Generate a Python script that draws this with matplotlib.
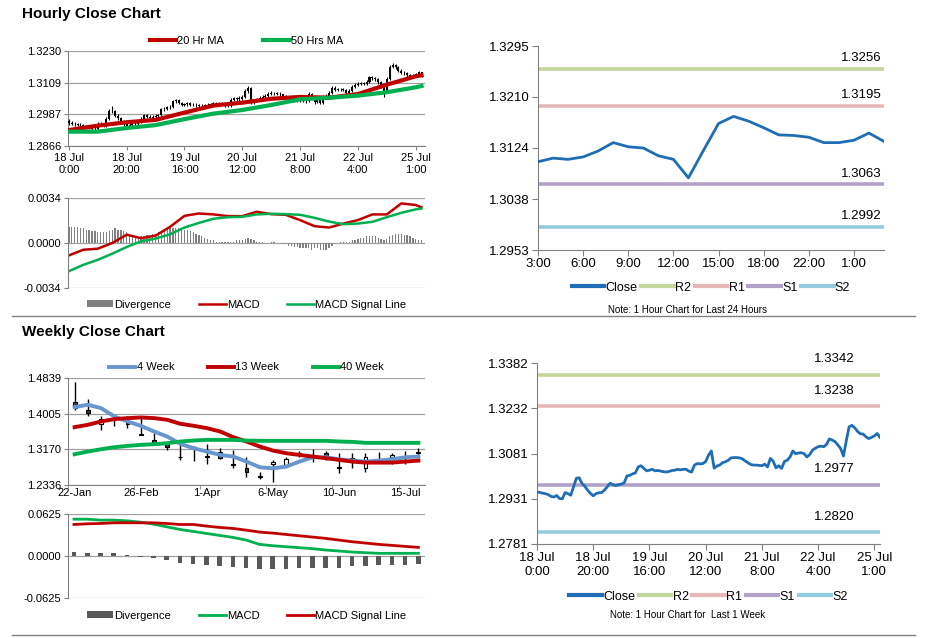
import matplotlib.pyplot as plt
from matplotlib.lines import Line2D
import numpy as np

plt.rcParams['font.family'] = ['Liberation Sans', 'DejaVu Sans']

# ---------------- data ----------------
# hourly closes, 18 Jul 0:00 onwards (123 hours)
hourly_close = [
    1.2954, 1.2952, 1.2950, 1.2948, 1.2945, 1.2939, 1.2937, 1.2942, 1.2932, 1.2931,
    1.2952, 1.2948, 1.2943, 1.2971, 1.2999, 1.3001, 1.2982, 1.2973, 1.2960, 1.2949,
    1.2941, 1.2948, 1.2951, 1.2952, 1.2960, 1.2971, 1.2983, 1.2978, 1.2975, 1.2978,
    1.2980, 1.2984, 1.3007, 1.3009, 1.3014, 1.3017, 1.3037, 1.3041, 1.3032, 1.3024,
    1.3026, 1.3029, 1.3024, 1.3025, 1.3023, 1.3021, 1.3020, 1.3022, 1.3025, 1.3026,
    1.3029, 1.3027, 1.3029, 1.3029, 1.3023, 1.3020, 1.3043, 1.3048, 1.3047, 1.3048,
    1.3055, 1.3076, 1.3090, 1.3033, 1.3040, 1.3043, 1.3051, 1.3054, 1.3059, 1.3067,
    1.3068, 1.3068, 1.3067, 1.3064, 1.3057, 1.3051, 1.3045, 1.3043, 1.3043, 1.3042,
    1.3041, 1.3046, 1.3037, 1.3065, 1.3056, 1.3034, 1.3041, 1.3032, 1.3055, 1.3059,
    1.3070, 1.3090, 1.3081, 1.3083, 1.3084, 1.3081, 1.3070, 1.3078, 1.3093, 1.3099,
    1.3104, 1.3106, 1.3104, 1.3112, 1.3130, 1.3126, 1.3121, 1.3110, 1.3098, 1.3073,
    1.3123, 1.3170, 1.3175, 1.3167, 1.3155, 1.3147, 1.3146, 1.3137, 1.3131, 1.3135,
    1.3140, 1.3148, 1.3135]
hourly_high = [
    1.2968, 1.2962, 1.2958, 1.2956, 1.2953, 1.2950, 1.2945, 1.2948, 1.2946, 1.2940,
    1.2958, 1.2957, 1.2953, 1.2978, 1.3008, 1.3020, 1.3005, 1.2988, 1.2977, 1.2964,
    1.2953, 1.2954, 1.2957, 1.2958, 1.2966, 1.2977, 1.2990, 1.2988, 1.2983, 1.2985,
    1.2987, 1.2990, 1.3013, 1.3016, 1.3020, 1.3024, 1.3043, 1.3048, 1.3045, 1.3036,
    1.3032, 1.3035, 1.3033, 1.3031, 1.3030, 1.3028, 1.3026, 1.3028, 1.3031, 1.3032,
    1.3035, 1.3034, 1.3035, 1.3036, 1.3034, 1.3028, 1.3050, 1.3055, 1.3054, 1.3056,
    1.3062, 1.3083, 1.3095, 1.3093, 1.3047, 1.3050, 1.3057, 1.3061, 1.3066, 1.3073,
    1.3075, 1.3074, 1.3074, 1.3071, 1.3067, 1.3061, 1.3055, 1.3050, 1.3049, 1.3049,
    1.3048, 1.3052, 1.3051, 1.3071, 1.3069, 1.3060, 1.3048, 1.3046, 1.3061, 1.3066,
    1.3077, 1.3096, 1.3094, 1.3089, 1.3090, 1.3089, 1.3085, 1.3084, 1.3099, 1.3106,
    1.3111, 1.3113, 1.3112, 1.3118, 1.3136, 1.3134, 1.3130, 1.3125, 1.3114, 1.3100,
    1.3130, 1.3178, 1.3184, 1.3181, 1.3172, 1.3160, 1.3153, 1.3150, 1.3142, 1.3141,
    1.3146, 1.3155, 1.3151]
hourly_low = [
    1.2948, 1.2946, 1.2944, 1.2941, 1.2939, 1.2934, 1.2931, 1.2933, 1.2927, 1.2926,
    1.2929, 1.2942, 1.2938, 1.2940, 1.2966, 1.2992, 1.2976, 1.2967, 1.2955, 1.2942,
    1.2934, 1.2936, 1.2942, 1.2945, 1.2948, 1.2955, 1.2966, 1.2972, 1.2969, 1.2970,
    1.2973, 1.2975, 1.2980, 1.3000, 1.3004, 1.3008, 1.3012, 1.3031, 1.3026, 1.3018,
    1.3019, 1.3021, 1.3018, 1.3019, 1.3017, 1.3015, 1.3013, 1.3015, 1.3017, 1.3019,
    1.3021, 1.3021, 1.3022, 1.3023, 1.3017, 1.3014, 1.3016, 1.3038, 1.3040, 1.3040,
    1.3043, 1.3050, 1.3070, 1.3027, 1.3028, 1.3035, 1.3038, 1.3046, 1.3049, 1.3054,
    1.3061, 1.3062, 1.3061, 1.3058, 1.3051, 1.3045, 1.3039, 1.3037, 1.3036, 1.3036,
    1.3035, 1.3036, 1.3031, 1.3034, 1.3050, 1.3028, 1.3029, 1.3026, 1.3028, 1.3050,
    1.3054, 1.3066, 1.3075, 1.3076, 1.3077, 1.3075, 1.3064, 1.3066, 1.3073, 1.3088,
    1.3094, 1.3098, 1.3098, 1.3100, 1.3108, 1.3120, 1.3115, 1.3104, 1.3090, 1.3053,
    1.3070, 1.3118, 1.3164, 1.3160, 1.3149, 1.3141, 1.3139, 1.3131, 1.3125, 1.3127,
    1.3132, 1.3136, 1.3130]
first_open = 1.2960
hourly_tick_pos = [0, 20, 40, 60, 80, 100, 120]
hourly_tick_labels = ['18 Jul\n0:00', '18 Jul\n20:00', '19 Jul\n16:00', '20 Jul\n12:00',
                      '21 Jul\n8:00', '22 Jul\n4:00', '25 Jul\n1:00']
hourly_yticks = [1.2866, 1.2987, 1.3109, 1.3230]

ma_hours = [0, 10, 20, 30, 40, 50, 60, 70, 80, 90, 100, 110, 120, 122]
ma20 = [1.2927, 1.2944, 1.2957, 1.2966, 1.2994, 1.3021, 1.3032, 1.3047, 1.3054,
        1.3051, 1.3065, 1.3101, 1.3133, 1.3137]
ma50 = [1.2921, 1.2921, 1.2935, 1.2946, 1.2969, 1.2990, 1.3004, 1.3023, 1.3045,
        1.3051, 1.3059, 1.3072, 1.3091, 1.3096]

macd_hours = [0, 5, 10, 15, 20, 25, 30, 35, 40, 45, 50, 55, 60, 65, 70, 75, 80, 85,
              90, 95, 100, 105, 110, 115, 120, 122]
h_macd = [-0.00094, -0.00051, -0.00043, 0.00000, 0.00063, 0.00036, 0.00056, 0.00122,
          0.00205, 0.00223, 0.00216, 0.00203, 0.00203, 0.00236, 0.00218, 0.00213,
          0.00173, 0.00127, 0.00117, 0.00147, 0.00173, 0.00216, 0.00216, 0.00299,
          0.00287, 0.00269]
h_signal = [-0.00213, -0.00165, -0.00127, -0.00081, -0.00030, 0.00013, 0.00033, 0.00066,
            0.00117, 0.00152, 0.00183, 0.00195, 0.00198, 0.00216, 0.00221, 0.00218,
            0.00213, 0.00190, 0.00162, 0.00142, 0.00147, 0.00160, 0.00195, 0.00228,
            0.00254, 0.00261]
h_divergence = [
    0.0012, 0.0012, 0.0012, 0.0012, 0.0011, 0.0011, 0.0010, 0.0010, 0.0009, 0.0009,
    0.0008, 0.0008, 0.0008, 0.0008, 0.0009, 0.0010, 0.0011, 0.0010, 0.0010, 0.0009,
    0.0008, 0.0006, 0.0005, 0.0005, 0.0004, 0.0005, 0.0005, 0.0006, 0.0006, 0.0007,
    0.0007, 0.0008, 0.0009, 0.0010, 0.0011, 0.0011, 0.0011, 0.0011, 0.0011, 0.0011,
    0.0010, 0.0010, 0.0009, 0.0008, 0.0007, 0.0006, 0.0005, 0.0004, 0.0003, 0.0002,
    0.0002, 0.0001, 0.0001, 0.0001, 0.0001, 0.0001, 0.0001, 0.0001, 0.0002, 0.0002,
    0.0002, 0.0003, 0.0004, 0.0003, 0.0002, 0.0001, 0.0001, 0.0001, 0.0000, 0.0000,
    0.0001, 0.0001, 0.0000, 0.0000, -0.0001, -0.0001, -0.0002, -0.0002, -0.0003, -0.0003,
    -0.0004, -0.0004, -0.0004, -0.0004, -0.0005, -0.0004, -0.0004, -0.0005, -0.0005, -0.0005,
    -0.0004, -0.0002, -0.0001, 0.0000, 0.0001, 0.0001, 0.0001, 0.0001, 0.0002, 0.0002,
    0.0003, 0.0004, 0.0004, 0.0005, 0.0005, 0.0005, 0.0005, 0.0004, 0.0003, 0.0002,
    0.0003, 0.0005, 0.0006, 0.0007, 0.0007, 0.0007, 0.0006, 0.0006, 0.0005, 0.0004,
    0.0003, 0.0002, 0.0002]
h_macd_yticks = [-0.0034, 0.0, 0.0034]

# last 24 hours
last24_close = [1.3101, 1.3107, 1.3105, 1.3109, 1.3119, 1.3133, 1.3126, 1.3124, 1.3111,
                1.3105, 1.3074, 1.3120, 1.3165, 1.3177, 1.3169, 1.3158, 1.3146, 1.3145,
                1.3142, 1.3133, 1.3133, 1.3137, 1.3149, 1.3135]
last24_tick_pos = [0, 3, 6, 9, 12, 15, 18, 21]
last24_tick_labels = ['3:00', '6:00', '9:00', '12:00', '15:00', '18:00', '22:00', '1:00']
last24_yticks = [1.2953, 1.3038, 1.3124, 1.3210, 1.3295]
level_names = ['R2', 'R1', 'S1', 'S2']
levels_24 = [1.3256, 1.3195, 1.3063, 1.2992]

# last week hourly
week_yticks = [1.2781, 1.2931, 1.3081, 1.3232, 1.3382]
levels_week = [1.3342, 1.3238, 1.2977, 1.2820]

# weekly candles
weekly_tick_labels = ['22-Jan', '26-Feb', '1-Apr', '6-May', '10-Jun', '15-Jul']
w_open = [1.4268, 1.4080, 1.3767, 1.3890, 1.3775, 1.3520, 1.3392, 1.3298, 1.2990, 1.3225,
          1.3005, 1.3118, 1.2810, 1.2727, 1.2536, 1.2829, 1.2805, 1.3070, 1.3020, 1.3079,
          1.2748, 1.2883, 1.2727, 1.2888, 1.2985, 1.2888, 1.3090]
w_close = [1.4135, 1.4018, 1.3885, 1.3885, 1.3767, 1.3509, 1.3314, 1.3236, 1.2985, 1.3220,
           1.3001, 1.2977, 1.2805, 1.2649, 1.2531, 1.2883, 1.2938, 1.3079, 1.3017, 1.2985,
           1.2743, 1.2962, 1.2985, 1.2883, 1.3040, 1.2883, 1.3095]
w_high = [1.4737, 1.4346, 1.3955, 1.3939, 1.3955, 1.3939, 1.3564, 1.3353, 1.3392, 1.3251,
          1.3298, 1.3196, 1.3157, 1.3001, 1.2649, 1.2923, 1.2985, 1.3134, 1.3173, 1.3142,
          1.3079, 1.3079, 1.3079, 1.3118, 1.3079, 1.3134, 1.3196]
w_low = [1.4096, 1.3939, 1.3627, 1.3705, 1.3666, 1.3500, 1.3298, 1.3157, 1.2923, 1.2907,
         1.2829, 1.2938, 1.2727, 1.2531, 1.2469, 1.2414, 1.2766, 1.3001, 1.2883, 1.2923,
         1.2625, 1.2727, 1.2649, 1.2844, 1.2829, 1.2829, 1.3001]
wk4 = [1.4159, 1.4213, 1.4135, 1.3940, 1.3822, 1.3721, 1.3588, 1.3470, 1.3298, 1.3196,
       1.3118, 1.3040, 1.3001, 1.2884, 1.2751, 1.2727, 1.2766, 1.2884, 1.2985, 1.2985,
       1.2938, 1.2907, 1.2884, 1.2907, 1.2938, 1.2985, 1.3001]
wk13 = [1.3689, 1.3744, 1.3822, 1.3877, 1.3900, 1.3916, 1.3900, 1.3861, 1.3767, 1.3721,
        1.3666, 1.3588, 1.3455, 1.3353, 1.3236, 1.3142, 1.3079, 1.3040, 1.3001, 1.2962,
        1.2923, 1.2884, 1.2860, 1.2860, 1.2860, 1.2884, 1.2907]
wk40 = [1.3056, 1.3118, 1.3173, 1.3220, 1.3251, 1.3275, 1.3290, 1.3314, 1.3353, 1.3376,
        1.3392, 1.3392, 1.3392, 1.3376, 1.3369, 1.3369, 1.3369, 1.3369, 1.3369, 1.3369,
        1.3353, 1.3345, 1.3322, 1.3322, 1.3322, 1.3322, 1.3322]
weekly_yticks = [1.2336, 1.3170, 1.4005, 1.4839]

w_macd = [0.0548, 0.0548, 0.0534, 0.0534, 0.0524, 0.0504, 0.0474, 0.0435, 0.0395, 0.0366,
          0.0336, 0.0306, 0.0277, 0.0237, 0.0173, 0.0153, 0.0138, 0.0124, 0.0109, 0.0089,
          0.0074, 0.0059, 0.0049, 0.0040, 0.0040, 0.0040, 0.0040]
w_signal = [0.0469, 0.0479, 0.0484, 0.0494, 0.0494, 0.0494, 0.0494, 0.0484, 0.0469, 0.0469,
            0.0445, 0.0425, 0.0410, 0.0385, 0.0356, 0.0341, 0.0321, 0.0301, 0.0282, 0.0262,
            0.0237, 0.0212, 0.0193, 0.0173, 0.0158, 0.0143, 0.0128]
w_div = [0.0064, 0.0049, 0.0049, 0.0040, 0.0010, -0.0010, -0.0035, -0.0060, -0.0099, -0.0119,
         -0.0128, -0.0143, -0.0168, -0.0183, -0.0198, -0.0198, -0.0198, -0.0183, -0.0173, -0.0173,
         -0.0173, -0.0153, -0.0148, -0.0138, -0.0133, -0.0128, -0.0119]
w_macd_yticks = [-0.0625, 0.0, 0.0625]

# ---------------- figure ----------------
W, H = 928, 638
fig = plt.figure(figsize=(W / 100, H / 100), dpi=100)

RED = '#c00000'
GREEN = '#00b050'
BLUE = '#1f6db5'
LEVEL_COLORS = ['#c3d69b', '#e6b9b8', '#b3a2c7', '#93cddd']
GRAY = '#808080'


def px_axes(l, t, r, b):
    return fig.add_axes([l / W, 1 - b / H, (r - l) / W, (b - t) / H])


def left_style(ax, yticks, fmt):
    for s in ['top', 'right']:
        ax.spines[s].set_visible(False)
    ax.spines['left'].set_color(GRAY)
    ax.spines['bottom'].set_color(GRAY)
    ax.set_yticks(yticks)
    ax.set_yticklabels([fmt % v for v in yticks])
    ax.set_ylim(yticks[0], yticks[-1])
    ax.yaxis.grid(True, color='#a0a0a0', lw=0.9)
    ax.set_axisbelow(True)
    ax.tick_params(length=3, color=GRAY, labelsize=8, pad=2)


def right_style(ax, yticks):
    for s in ['top', 'right']:
        ax.spines[s].set_visible(False)
    ax.spines['left'].set_color(GRAY)
    ax.spines['bottom'].set_color(GRAY)
    ax.set_yticks(yticks)
    ax.set_yticklabels(['%.4f' % v for v in yticks])
    ax.set_ylim(yticks[0], yticks[-1])
    ax.tick_params(length=4, color=GRAY, labelsize=9.5, pad=2)


def macd_legend(ax, anchor_y):
    hs, ls = ax.get_legend_handles_labels()
    # bars are listed last by matplotlib; the reference puts Divergence first
    hs = hs[-1:] + hs[:-1]
    ls = ls[-1:] + ls[:-1]
    ax.legend(hs, ls, loc='upper center', bbox_to_anchor=(0.5, anchor_y), ncol=3,
              frameon=False, fontsize=8, handlelength=2.4, handleheight=0.6,
              columnspacing=2.5, handletextpad=0.1, borderaxespad=0)


# titles and separators
fig.text(22 / W, 1 - 14 / H, 'Hourly Close Chart', fontsize=11, fontweight='bold', va='center')
fig.text(22 / W, 1 - 332 / H, 'Weekly Close Chart', fontsize=11, fontweight='bold', va='center')
for yy in [316, 635]:
    fig.add_artist(Line2D([12 / W, 915 / W], [1 - yy / H, 1 - yy / H], color=GRAY, lw=1))

# ---- hourly candles ----
ax1 = px_axes(68, 51, 425, 146)
n = len(hourly_close)
x = np.arange(n)
opens = [first_open] + hourly_close[:-1]
ax1.vlines(x, hourly_low, hourly_high, color='black', lw=0.8, zorder=3)
lo = np.minimum(opens, hourly_close)
ht = np.maximum(np.abs(np.array(hourly_close) - np.array(opens)), 0.00006)
ax1.bar(x, ht, bottom=lo, width=0.7, color='black', zorder=3)
ax1.plot(ma_hours, ma20, color=RED, lw=3, label='20 Hr MA', zorder=4)
ax1.plot(ma_hours, ma50, color=GREEN, lw=3, label='50 Hrs MA', zorder=4)
left_style(ax1, hourly_yticks, '%.4f')
ax1.set_xlim(-0.3, n + 0.2)
ax1.set_xticks(hourly_tick_pos)
ax1.set_xticklabels(hourly_tick_labels)
ax1.legend(loc='lower center', bbox_to_anchor=(0.5, 1.01), ncol=2, frameon=False,
           fontsize=8, handlelength=2.4, columnspacing=3.5, handletextpad=0.1, borderaxespad=0)

# ---- hourly MACD ----
ax2 = px_axes(68, 198, 425, 288)
ax2.bar(x, h_divergence, width=0.45, color=GRAY, label='Divergence')
ax2.plot(macd_hours, h_macd, color=RED, lw=1.8, label='MACD')
ax2.plot(macd_hours, h_signal, color=GREEN, lw=1.8, label='MACD Signal Line')
left_style(ax2, h_macd_yticks, '%.4f')
ax2.spines['bottom'].set_visible(False)
ax2.set_xlim(-0.3, n + 0.2)
ax2.set_xticks([])
macd_legend(ax2, -0.08)

# ---- last 24 hours ----
ax3 = px_axes(538, 46, 884, 250)
for name, lv, col in zip(level_names, levels_24, LEVEL_COLORS):
    ax3.axhline(lv, color=col, lw=2.6, label=name)
    ax3.annotate('%.4f' % lv, xy=(1, lv), xycoords=('axes fraction', 'data'),
                 xytext=(-2, 3.5), textcoords='offset points', ha='right', va='bottom',
                 fontsize=9.5)
ax3.plot(np.arange(len(last24_close)), last24_close, color=BLUE, lw=2, label='Close', zorder=5)
right_style(ax3, last24_yticks)
ax3.set_xlim(0, len(last24_close) - 1)
ax3.set_xticks(last24_tick_pos)
ax3.set_xticklabels(last24_tick_labels)
h3, l3 = ax3.get_legend_handles_labels()
order = [4, 0, 1, 2, 3]
ax3.legend([h3[i] for i in order], [l3[i] for i in order], loc='upper center',
           bbox_to_anchor=(0.5, -0.13), ncol=5, frameon=False, fontsize=9,
           handlelength=2.6, columnspacing=0.3, handletextpad=0.1, borderaxespad=0)
for leg_line in ax3.get_legend().get_lines():
    leg_line.set_linewidth(3)
fig.text(688 / W, 1 - 310 / H, 'Note: 1 Hour Chart for Last 24 Hours', fontsize=7,
         ha='center', va='center')

# ---- weekly candles ----
ax4 = px_axes(68, 378, 425, 485)
wx = np.arange(len(w_close))
ax4.vlines(wx, w_low, w_high, color='black', lw=1, zorder=3)
for i in range(len(w_close)):
    o, c = w_open[i], w_close[i]
    fc = 'white' if c > o else '#404040'
    hgt = max(abs(c - o), 0.0012)
    ax4.bar(i, hgt, bottom=min(o, c), width=0.3, color=fc, edgecolor='black', lw=0.8, zorder=4)
ax4.plot(wx, wk4, color='#6a96cf', lw=2.8, label='4 Week', zorder=5)
ax4.plot(wx, wk13, color=RED, lw=2.8, label='13 Week', zorder=5)
ax4.plot(wx, wk40, color=GREEN, lw=2.8, label='40 Week', zorder=5)
left_style(ax4, weekly_yticks, '%.4f')
ax4.set_xlim(-0.45, len(w_close) - 0.5)
ax4.set_xticks(wx[::5])
ax4.set_xticklabels(weekly_tick_labels)
ax4.tick_params(axis='x', length=0)
ax4.set_xticks(np.arange(-0.5, len(w_close), 5), minor=True)
ax4.tick_params(axis='x', which='minor', length=3, color=GRAY)
ax4.legend(loc='lower center', bbox_to_anchor=(0.5, 1.01), ncol=3, frameon=False,
           fontsize=8, handlelength=2.4, columnspacing=3.0, handletextpad=0.1, borderaxespad=0)

# ---- weekly MACD ----
ax5 = px_axes(68, 514, 425, 598)
ax5.bar(wx, w_div, width=0.35, color='#595959', label='Divergence')
ax5.plot(wx, w_macd, color=GREEN, lw=2, label='MACD')
ax5.plot(wx, w_signal, color=RED, lw=2, label='MACD Signal Line')
left_style(ax5, w_macd_yticks, '%.4f')
ax5.spines['bottom'].set_visible(False)
ax5.set_xlim(-0.45, len(w_close) - 0.5)
ax5.set_xticks([])
macd_legend(ax5, -0.1)

# ---- last week hourly ----
ax6 = px_axes(537, 363, 880, 544)
for name, lv, col in zip(level_names, levels_week, LEVEL_COLORS):
    ax6.axhline(lv, color=col, lw=2.6, label=name)
    ax6.annotate('%.4f' % lv, xy=(1, lv), xycoords=('axes fraction', 'data'),
                 xytext=(-18, 7), textcoords='offset points', ha='right', va='bottom',
                 fontsize=9.5)
ax6.plot(x, hourly_close, color=BLUE, lw=2, label='Close', zorder=5)
right_style(ax6, week_yticks)
ax6.set_xlim(0, n - 1)
ax6.set_xticks(hourly_tick_pos)
ax6.set_xticklabels(hourly_tick_labels)
h6, l6 = ax6.get_legend_handles_labels()
ax6.legend([h6[i] for i in order], [l6[i] for i in order], loc='upper center',
           bbox_to_anchor=(0.5, -0.23), ncol=5, frameon=False, fontsize=9,
           handlelength=2.6, columnspacing=0.3, handletextpad=0.1, borderaxespad=0)
for leg_line in ax6.get_legend().get_lines():
    leg_line.set_linewidth(3)
fig.text(688 / W, 1 - 615 / H, 'Note: 1 Hour Chart for  Last 1 Week', fontsize=7,
         ha='center', va='center')

fig.savefig('out.png', dpi=100)
